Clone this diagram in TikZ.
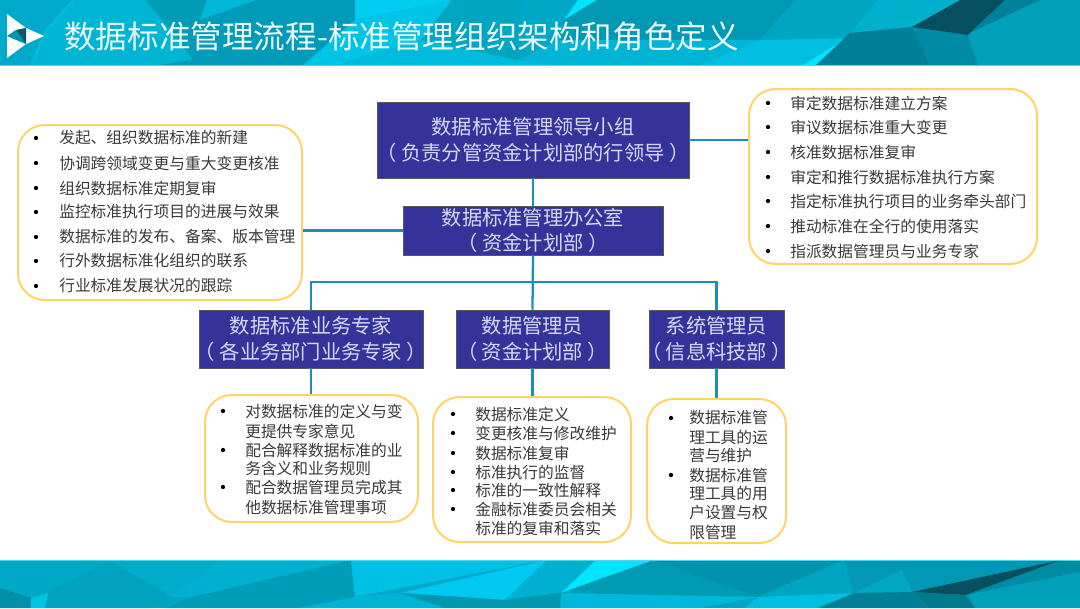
\documentclass[tikz,border=0pt]{standalone}
\usepackage{fontspec}
\setmainfont{Noto Sans CJK SC}
\definecolor{boxfill}{HTML}{333399}
\definecolor{conn}{HTML}{1B8CC4}
\definecolor{ylw}{HTML}{FFD466}
\definecolor{boxtxt}{HTML}{D5D8F5}
\definecolor{listtxt}{HTML}{3A3A3A}
\definecolor{teal}{HTML}{00A5C2}
\definecolor{titletxt}{HTML}{EAF8FC}
\tikzset{
 orgbox/.style={draw=black!65,line width=0.7pt,fill=boxfill,text=boxtxt,align=center,inner sep=0pt,font=\fontsize{15.2}{19}\selectfont},
 listbox/.style={draw=ylw,line width=1.5pt,fill=white,rounded corners=20pt,inner sep=0pt},
 li/.style={anchor=west,text=listtxt,inner sep=0pt,font=\fontsize{11.8}{14}\selectfont},
 bul/.style={circle,fill=black,inner sep=0pt,minimum size=3.2pt},
 link/.style={draw=conn,line width=1.7pt}
}
\newcommand{\fc}[2]{\definecolor{tmpc}{HTML}{#1}\fill[tmpc] #2 -- cycle;}
\newcommand{\bx}[7]{\node[orgbox,minimum width=#4*0.75pt-#2*0.75pt,minimum height=#5*0.75pt-#3*0.75pt] (#1) at ({(#2+#4)/2},{(#3+#5)/2}) {\makebox[0pt][c]{#6}\\\makebox[0pt][c]{#7}};}
\newcommand{\lb}[5]{\node[listbox,minimum width=#4*0.75pt-#2*0.75pt,minimum height=#5*0.75pt-#3*0.75pt] (#1) at ({(#2+#4)/2},{(#3+#5)/2}) {};}
\newcommand{\itm}[3]{\node[li] at (#1,#2) {#3};}
\newcommand{\bu}[2]{\node[bul] at (#1,#2) {};}
\begin{document}
\begin{tikzpicture}[x=0.75pt,y=-0.75pt]
\useasboundingbox (0,0) rectangle (1080,608);
\fill[white] (0,0) rectangle (1080,608);
% ---------- header band
\fill[teal] (0,0) rectangle (1080,65);
\fc{00A9C9}{(0,0) -- (72,0) -- (45,30) -- (30,65) -- (0,65)}
\fc{00B4D4}{(72,0) -- (145,0) -- (169,27) -- (193,60) -- (160,65) -- (30,65) -- (45,30)}
\fc{00BCDC}{(72,0) -- (76,0) -- (48,30) -- (33,65) -- (30,65) -- (45,30)}
\fc{009BB5}{(145,0) -- (207,0) -- (200,20) -- (193,60) -- (169,27)}
\fc{00B7D8}{(207,0) -- (257,0) -- (200,20)}
\fc{009BB8}{(257,0) -- (355,0) -- (355,20) -- (303,65) -- (160,65) -- (193,60) -- (200,20)}
\fc{00CDF0}{(355,0) -- (452,0) -- (355,20)}
\fc{00C4E6}{(355,20) -- (452,0) -- (421,40) -- (335,65) -- (303,65)}
\fc{00A5C2}{(452,0) -- (524,0) -- (517,60) -- (421,40)}
\fc{00BBDD}{(421,40) -- (517,60) -- (560,65) -- (335,65)}
\fc{00A8C8}{(524,0) -- (578,0) -- (564,20) -- (517,60)}
\fc{00E5FF}{(564,20) -- (597,0) -- (578,0)}
\fc{0098B2}{(597,0) -- (795,0) -- (760,40) -- (560,40) -- (564,20)}
\fc{00B4D6}{(517,60) -- (560,40) -- (760,40) -- (700,65) -- (560,65)}
\fc{00BFE0}{(760,40) -- (847,38) -- (816,65) -- (700,65)}
\fc{00A5C2}{(795,0) -- (878,0) -- (850,33) -- (847,38) -- (760,40)}
\fc{00B0CC}{(878,0) -- (960,0) -- (912,27) -- (850,33)}
\fc{00E5FF}{(847,38) -- (816,65) -- (803,65)}
\fc{007F98}{(850,33) -- (912,27) -- (930,65) -- (816,65)}
\fc{008BA5}{(912,27) -- (968,35) -- (978,65) -- (930,65)}
\fc{054F5E}{(912,27) -- (960,0) -- (1005,0) -- (968,35)}
\fc{008099}{(1005,0) -- (1040,0) -- (972,32)}
\fc{009FBA}{(968,35) -- (1040,0) -- (1080,0) -- (1080,65) -- (978,65)}
\fc{4FD8E8}{(0,64.5) -- (1080,64.5) -- (1080,65.5) -- (0,65.5)}
% logo
\fc{FFFFFF}{(7,14) -- (26,28) -- (16,30) -- (7,36)}
\fc{FFFFFF}{(26,28) -- (44,36) -- (26,44)}
\fc{FFFFFF}{(7,36) -- (26,44) -- (7,58)}
\fc{05566A}{(16,30) -- (26,28) -- (26,44)}
\fc{0095AE}{(7,36) -- (16,30) -- (26,44)}
\node[anchor=west,text=titletxt,inner sep=0pt,font=\fontsize{23.7}{28}\selectfont] (title) at (64,37) {数据标准管理流程-标准管理组织架构和角色定义};
% ---------- footer band
\fill[teal] (0,560) rectangle (1080,608);
\fc{00A8C8}{(0,560) -- (110,560) -- (48,593) -- (31,598) -- (0,588)}
\fc{0090A8}{(0,588) -- (31,598) -- (31,608) -- (0,608)}
\fc{00A2C0}{(48,593) -- (110,560) -- (172,597) -- (150,608) -- (45,608)}
\fc{00C4E6}{(31,598) -- (48,593) -- (45,608) -- (31,608)}
\fc{00ACCA}{(110,560) -- (220,560) -- (172,597)}
\fc{00B0D0}{(220,560) -- (351,560) -- (193,597) -- (172,597)}
\fc{009CB8}{(193,597) -- (351,560) -- (355,597) -- (300,608) -- (165,608)}
\fc{00C0E3}{(351,560) -- (547,560) -- (355,597)}
\fc{00A8C8}{(355,597) -- (547,560) -- (400,593)}
\fc{00C8F0}{(400,593) -- (547,560) -- (505,600)}
\fc{00B0D0}{(547,560) -- (596,560) -- (561,593) -- (505,600)}
\fc{00E5FF}{(596,560) -- (654,560) -- (561,593)}
\fc{009AB5}{(561,593) -- (654,560) -- (758,597)}
\fc{0092AE}{(654,560) -- (844,560) -- (758,597)}
\fc{00A5C2}{(844,560) -- (854,593) -- (758,597)}
\fc{00B8DC}{(561,593) -- (758,597) -- (700,608) -- (560,608)}
\fc{00B4D6}{(355,597) -- (400,593) -- (505,600) -- (445,608) -- (300,608)}
\fc{0098B0}{(400,593) -- (505,600) -- (561,593) -- (560,608) -- (445,608)}
\fc{00BFE0}{(758,597) -- (854,593) -- (815,608) -- (745,608)}
\fc{0098B4}{(844,560) -- (1061,560) -- (912,592) -- (902,570) -- (854,593)}
\fc{00A8C4}{(854,593) -- (902,570) -- (912,592)}
\fc{054F5E}{(912,592) -- (1061,560) -- (966,595)}
\fc{008AA4}{(966,595) -- (1061,560) -- (1080,560) -- (1080,572)}
\fc{009FBA}{(966,595) -- (1080,572) -- (1080,608) -- (975,608)}
\fc{00788E}{(912,592) -- (966,595) -- (975,608) -- (930,608)}
\fc{007F98}{(854,593) -- (912,592) -- (930,608) -- (820,608)}
\fc{4FD8E8}{(0,559.5) -- (1080,559.5) -- (1080,560.5) -- (0,560.5)}
% ---------- org boxes and list boxes
\lb{ll}{18}{125}{302}{300}
\lb{rl}{749}{89}{1037}{264}
\lb{b1}{205}{395}{418}{522}
\lb{b2}{433}{397}{631}{542}
\lb{b3}{647}{399}{786}{543}
\coordinate (bus) at (0,282);
\bx{lead}{377}{102}{689}{178}{数据标准管理领导小组}{（ 负责分管资金计划部的行领导 ）}
\bx{office}{403}{206}{663}{255}{数据标准管理办公室}{（ 资金计划部 ）}
\bx{exp}{199}{310}{423}{368}{数据标准业务专家}{（ 各业务部门业务专家 ）}
\bx{dm}{456}{310}{609}{368}{数据管理员}{（ 资金计划部 ）}
\bx{sys}{649}{310}{784}{368}{系统管理员}{（ 信息科技部 ）}
% ---------- connectors
\draw[link] (lead.east) -- (rl.west |- lead.east);
\draw[link] (office.west) -- (ll.east |- office.west);
\draw[link] (lead.south) -- (office.north);
\draw[link] (office.south) -- (dm.north);
\draw[link] (exp.north) -- (exp.north |- bus) -- (sys.north |- bus) -- (sys.north);
\draw[link] (exp.south) -- (exp.south |- b1.north);
\draw[link] (dm.south) -- (dm.south |- b2.north);
\draw[link] (sys.south) -- (sys.south |- b3.north);
% ---------- left list
\bu{36}{138}\itm{59}{138}{发起、组织数据标准的新建}
\bu{36}{163}\itm{59}{163}{协调跨领域变更与重大变更核准}
\bu{36}{188}\itm{59}{188}{组织数据标准定期复审}
\bu{36}{212}\itm{59}{212}{监控标准执行项目的进展与效果}
\bu{36}{237}\itm{59}{237}{数据标准的发布、备案、版本管理}
\bu{36}{261}\itm{59}{261}{行外数据标准化组织的联系}
\bu{36}{286}\itm{59}{286}{行业标准发展状况的跟踪}
% ---------- right list
\bu{768}{103}\itm{790}{103}{审定数据标准建立方案}
\bu{768}{127}\itm{790}{127}{审议数据标准重大变更}
\bu{768}{152}\itm{790}{152}{核准数据标准复审}
\bu{768}{177}\itm{790}{177}{审定和推行数据标准执行方案}
\bu{768}{201}\itm{790}{201}{指定标准执行项目的业务牵头部门}
\bu{768}{226}\itm{790}{226}{推动标准在全行的使用落实}
\bu{768}{251}\itm{790}{251}{指派数据管理员与业务专家}
% ---------- b1
\bu{223}{411}\itm{245}{411}{对数据标准的定义与变}
\itm{245}{431}{更提供专家意见}
\bu{223}{450}\itm{245}{450}{配合解释数据标准的业}
\itm{245}{468}{务含义和业务规则}
\bu{223}{487}\itm{245}{487}{配合数据管理员完成其}
\itm{245}{507}{他数据标准管理事项}
% ---------- b2
\bu{453}{414}\itm{475}{414}{数据标准定义}
\bu{453}{433}\itm{475}{433}{变更核准与修改维护}
\bu{453}{453}\itm{475}{453}{数据标准复审}
\bu{453}{472}\itm{475}{472}{标准执行的监督}
\bu{453}{490}\itm{475}{490}{标准的一致性解释}
\bu{453}{509}\itm{475}{509}{金融标准委员会相关}
\itm{475}{528}{标准的复审和落实}
% ---------- b3
\bu{671}{418}\itm{689}{418}{数据标准管}
\itm{689}{438}{理工具的运}
\itm{689}{456}{营与维护}
\bu{671}{475}\itm{689}{475}{数据标准管}
\itm{689}{494}{理工具的用}
\itm{689}{513}{户设置与权}
\itm{689}{532}{限管理}
\end{tikzpicture}
\end{document}
